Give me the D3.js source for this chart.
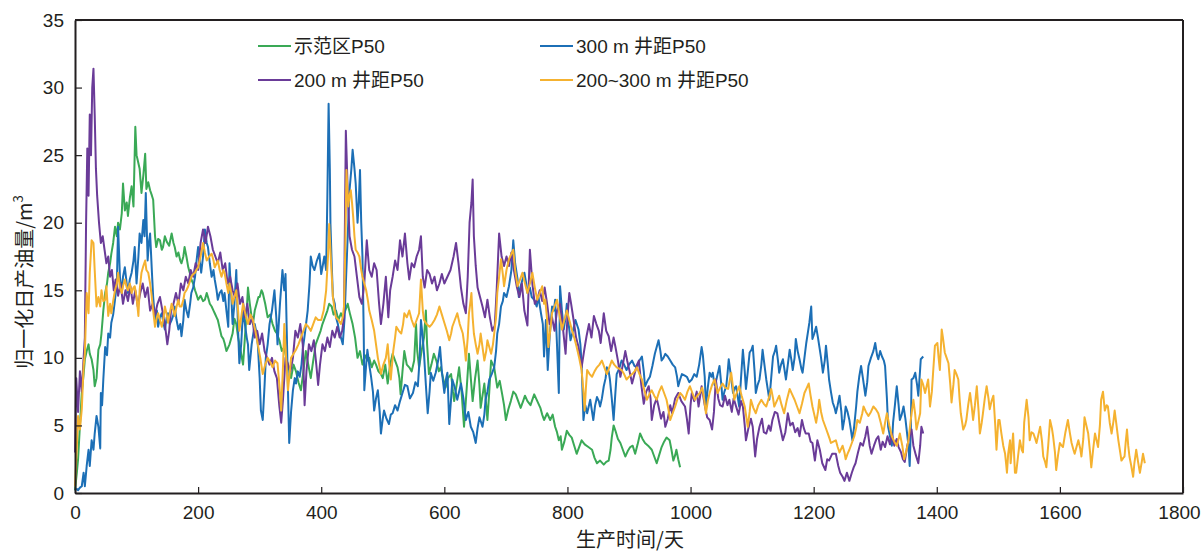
<!DOCTYPE html>
<html>
<head>
<meta charset="utf-8">
<style>
  body { margin: 0; background: #fff; }
  svg { display: block; font-family: "Liberation Sans", Arial, "Noto Sans CJK SC", sans-serif; }
</style>
</head>
<body>
<div id="chart"></div>
<script src="https://cdn.jsdelivr.net/npm/d3@7"></script>
<script>
// day, normalised daily oil (m3)
var green = [[0,0.2],[3,1.5],[5,2.5],[8,5],[11,7.4],[14,8.8],[16,9.9],[19,10.5],[22,11],[24,10.3],[27,9.9],[30,9.1],[32,7.9],[35,8.5],[38,10.6],[41,11],[43,11.8],[46,13.5],[49,14.8],[52,15.5],[54,16.3],[57,17],[59,17.7],[62,18.5],[65,19.7],[68,19],[70,20],[73,19.5],[76,20.7],[78,22.9],[81,20.9],[84,21.5],[86,20.5],[89,21.8],[92,22.7],[95,21.2],[98,27.1],[100,25],[102,24.6],[105,24],[108,22.2],[111,23.5],[114,25.1],[116,22.5],[119,23],[122,22.4],[125,22],[127,21.7],[130,19],[132,18.2],[135,18.8],[138,18.7],[141,18],[143,18.2],[146,19],[149,18.6],[153,18.3],[157,19.2],[160,18.5],[162,18.2],[165,17.5],[168,17.8],[171,17.2],[173,17],[176,17.5],[178,18.2],[181,17.5],[184,16.7],[187,16.2],[189,15.8],[192,15.5],[195,15],[198,14.6],[200,14.3],[204,14.6],[208,14.2],[211,14.3],[214,14.8],[216,14.5],[219,14],[222,13.8],[225,13.5],[227,13.3],[230,13],[232,12.8],[235,12.2],[238,11.6],[241,11.4],[243,11.1],[246,10.5],[249,10.8],[251,11],[256,11.8],[259,12.9],[262,12.5],[265,11.5],[268,10.8],[273,9.5],[276,11.5],[279,13.5],[281,15.2],[284,14],[287,13],[289,12.5],[292,13.5],[295,14],[298,14.5],[300,14.5],[303,15],[305,14.8],[309,14],[313,13],[317,13.2],[321,12.5],[325,12],[328,11.8],[332,11.3],[336,10.5],[340,10.8],[343,10],[347,9.3],[351,8.5],[355,9.5],[359,9],[363,8.2],[367,7.6],[371,9],[375,10.5],[379,9.5],[383,8.5],[387,9.8],[391,11],[395,11.5],[399,12],[402,12.5],[406,13],[410,13.5],[413,14],[417,13.8],[420,13.2],[424,13.5],[428,12.8],[432,13.3],[435,13],[439,13.5],[443,14],[447,13.2],[451,12.5],[455,11.5],[459,10],[463,10.5],[467,9.5],[471,10.2],[475,9.8],[478,10],[482,9.3],[486,9.8],[489,9.5],[493,9],[497,8.8],[500,8.5],[504,9.5],[508,8.1],[512,9.5],[516,10.3],[520,9.8],[524,9.3],[527,8.5],[529,7.3],[532,9],[535,10.5],[539,9.5],[543,9.3],[547,9],[551,9.8],[554,12.5],[556,10.5],[559,9.3],[563,10.5],[567,11.5],[570,13.5],[572,11],[575,8.8],[579,9.5],[583,10.3],[587,9.8],[591,9],[594,9.3],[598,8.5],[602,7.8],[606,8.5],[611,8.8],[614,7.5],[616,6.8],[620,8],[624,9.3],[628,7.5],[632,4.9],[636,7.5],[640,10.3],[643,8.5],[646,6.8],[650,8.5],[654,9.8],[657,8],[659,6.3],[662,7.2],[665,8.1],[668,6.5],[670,5.4],[673,7.5],[676,9.8],[681,9.3],[686,7.8],[690,8.3],[694,7.3],[697,6.5],[700,5.4],[704,6.2],[708,6.8],[712,7.5],[716,7.3],[720,6.8],[724,6.3],[728,6.8],[731,7.2],[735,6.8],[740,6.5],[746,7.3],[751,6.8],[756,6.3],[759,5.8],[762,5.4],[767,5.9],[772,5.4],[776,5.8],[780,4.9],[783,4.5],[786,3.9],[789,4.2],[791,3.2],[795,3.8],[799,4.6],[803,4.3],[807,4.1],[811,3.5],[815,2.9],[819,3.4],[823,3.9],[828,3.6],[834,3.4],[840,3.2],[844,2.6],[848,2.2],[853,2.4],[859,2.1],[863,2.3],[867,2.4],[870,3.2],[872,4.1],[875,5],[878,4.6],[882,4],[886,3.7],[890,3.2],[894,2.7],[898,3.1],[902,3.4],[906,3.5],[910,2.9],[914,3.6],[918,4.4],[922,4],[926,3.7],[931,3.5],[937,3.2],[941,2.7],[945,2.2],[949,2.8],[953,3.4],[957,3.8],[961,4.1],[966,3.9],[969,3.2],[972,2.4],[975,2.8],[977,3.2],[980,2.5],[983,1.9]];

var blue = [[0,0.2],[3,0.3],[5,0.2],[8,0.4],[11,0.5],[14,1.5],[16,0.5],[19,2],[22,3.2],[24,2],[27,3.9],[30,3.2],[32,4.4],[35,5.7],[38,4.9],[41,3.3],[42,7.4],[44,6.5],[46,8.4],[49,10.8],[52,10.2],[54,11.8],[57,11.5],[59,12.6],[62,13.2],[65,14.3],[68,15.5],[70,19.7],[73,16],[76,14.8],[78,16],[81,16.7],[84,15.5],[86,14.8],[89,15.8],[92,16.3],[95,17.2],[97,18.2],[100,15.5],[103,17.5],[105,19.2],[108,18.5],[111,20.2],[113,19],[115,22.2],[118,17.2],[120,18.5],[122,19.2],[125,16.3],[127,14.5],[130,12.8],[133,13.5],[135,12.3],[138,13],[141,13.3],[144,12.5],[146,12.1],[149,13],[151,13.3],[154,12.5],[157,12.8],[160,13.2],[162,13.8],[165,12.8],[168,12.1],[171,12.5],[173,11.6],[176,12.8],[178,14.3],[181,13.5],[184,13],[187,14],[189,14.8],[192,15.2],[195,16],[197,17],[200,18.2],[203,17],[205,16.3],[208,17.5],[211,19.5],[214,18.5],[216,18.2],[219,17],[222,16],[225,16.5],[227,15.8],[230,15],[232,14.3],[235,14.8],[238,15],[241,14.2],[243,14.8],[246,13.5],[249,12.3],[251,17],[254,14.5],[256,12.5],[259,14],[262,16.5],[265,12],[267,9.6],[270,11],[273,13.5],[276,12.5],[279,11.5],[281,11],[283,9.1],[287,11],[292,12.5],[295,11.8],[297,11],[300,8.5],[302,6.1],[305,5.4],[308,8],[310,10],[313,11],[316,12.5],[320,13.5],[324,15],[327,13],[329,11],[333,14],[337,16.5],[340,15],[342,16.2],[344,12],[346,7.6],[348,3.7],[351,6],[354,7.6],[357,8.5],[359,8.1],[362,9],[365,8.6],[368,9.5],[370,10.6],[374,12],[378,13.5],[381,15.5],[383,17.5],[386,16.8],[389,16.5],[393,17.2],[397,17.7],[400,16.2],[402,16.7],[405,17.5],[408,16.5],[410,22],[412,28.8],[414,24],[415,19.9],[417,17],[419,14.5],[422,14],[424,13],[427,12.5],[429,12],[432,11.5],[435,11],[438,13],[440,15.5],[443,19],[446,22.4],[449,24],[451,25.4],[454,24],[456,22.9],[459,20],[461,21.5],[463,23.9],[465,20],[467,17.5],[469,12],[470,7.6],[473,9.5],[475,10.6],[478,9.5],[481,8.6],[484,7.5],[486,6.1],[489,7],[492,7.6],[495,6],[497,4.4],[500,5.5],[502,6.1],[506,5.5],[510,5.1],[513,5.8],[516,5.9],[520,6.5],[524,6.1],[528,6.8],[532,7.4],[536,8],[540,7.9],[544,7],[549,7.4],[553,8.2],[557,7.9],[560,10],[562,12.8],[565,11.5],[567,10.3],[570,8],[573,5.9],[576,7.5],[578,8.9],[582,8.3],[586,8.9],[590,9.8],[593,10.8],[596,9],[600,7.4],[603,8.5],[605,8.9],[608,5.1],[611,7],[613,8.4],[617,7.8],[621,6.9],[624,7.5],[627,8.1],[631,7],[635,5.4],[639,6],[643,4.9],[647,4.5],[651,3.7],[654,4.8],[657,5.6],[660,5.2],[662,4.9],[665,5.8],[667,6.9],[670,7.5],[673,8.4],[677,8.8],[681,9.3],[684,10.5],[686,11.8],[689,12.5],[692,13.8],[695,14.2],[697,14.8],[701,14.5],[705,15.3],[709,16.5],[712,18.7],[715,17],[719,15.8],[721,14.5],[724,15.3],[727,15.8],[730,16.3],[733,15.5],[735,14.8],[739,15.2],[742,14.5],[746,14.3],[750,13.8],[753,14.5],[757,13.3],[760,12.5],[762,10.1],[765,12.8],[768,9.1],[771,11.5],[775,13.8],[778,13.5],[780,14.3],[783,11],[786,7.4],[788,15.3],[791,13.5],[794,12.1],[797,13],[799,14],[802,12.5],[805,11.3],[809,12],[813,12.8],[818,12.1],[821,11],[823,9.6],[826,5.4],[829,6.5],[832,5.9],[835,6.5],[837,6.9],[840,6],[842,5.4],[845,6.5],[848,7.1],[851,6.8],[853,6.4],[856,7],[859,7.9],[862,8.5],[864,9.3],[867,9],[869,8.4],[872,7],[875,5.4],[878,7.5],[880,8.8],[884,9.2],[888,9.8],[892,9.5],[896,9.1],[900,9.5],[905,9.8],[909,9.4],[913,9.3],[917,9.8],[921,10.1],[924,9],[926,7.9],[930,8.3],[934,8.6],[938,9.4],[942,10.3],[945,10.8],[948,11.3],[951,10.5],[953,9.8],[956,10],[959,10.3],[963,10.1],[967,9.8],[971,9.5],[975,9.3],[978,8.6],[980,7.9],[983,8.4],[986,8.8],[990,8.7],[994,8.6],[998,8.2],[1002,8.4],[1006,8.8],[1010,8.6],[1014,9.5],[1018,10.8],[1020,10.2],[1023,8.6],[1025,6.4],[1028,7.8],[1031,8.9],[1034,8.6],[1036,8.9],[1039,8],[1042,8.4],[1045,9],[1047,9.4],[1050,8],[1052,6.9],[1055,7.5],[1058,7.9],[1060,8.8],[1062,9.9],[1066,8.5],[1069,7.4],[1072,7.8],[1074,7.9],[1077,7],[1079,6.4],[1082,8.5],[1085,10.6],[1088,9],[1090,7.7],[1093,9],[1096,10.4],[1099,10.6],[1101,10.9],[1104,9],[1106,7.4],[1109,8],[1112,8.4],[1115,9.5],[1117,10.6],[1120,9.5],[1123,8.4],[1126,7.5],[1128,6.9],[1131,8.5],[1134,10.1],[1137,10.5],[1139,10.9],[1142,9.8],[1144,8.9],[1147,9.5],[1150,9.9],[1153,9],[1155,8.4],[1158,9.5],[1161,10.6],[1164,9.8],[1166,9.1],[1169,10],[1171,11.4],[1174,10.5],[1177,9.9],[1180,9.2],[1182,8.9],[1185,10],[1188,11.1],[1191,12],[1193,12.6],[1196,13.8],[1198,11.4],[1201,11.8],[1204,12.3],[1207,11.5],[1209,10.9],[1212,10],[1215,8.9],[1218,9.8],[1220,10.9],[1223,9.5],[1225,8.4],[1228,7.5],[1231,6.7],[1234,6.3],[1236,5.9],[1239,6.5],[1242,7.2],[1245,6],[1247,4.7],[1250,5.5],[1252,6.4],[1255,6],[1258,5.4],[1261,4.5],[1263,3.9],[1266,5],[1269,6.4],[1271,7.5],[1274,8.6],[1277,9.4],[1280,8.5],[1284,7.2],[1287,8.2],[1289,9.4],[1293,10],[1297,10.5],[1300,11.1],[1303,10.2],[1305,9.9],[1308,10.5],[1311,10.1],[1314,9.8],[1316,9.4],[1319,7],[1321,4.9],[1324,4.2],[1327,3.5],[1329,5.2],[1332,6.5],[1335,7.9],[1338,6.5],[1340,5.4],[1343,5.8],[1346,6.4],[1349,5.5],[1351,4.7],[1354,3.5],[1356,2],[1358,5],[1359,8.4],[1362,8.5],[1365,8.9],[1368,8],[1370,7.2],[1372,8.5],[1374,9.9],[1378,10.1]];

var purple = [[0,3],[2,8.5],[5,6],[8,9],[11,7.5],[14,10],[16,11.5],[18,20],[20,25.5],[22,22],[24,28],[26,25],[28,30],[30,31.4],[32,28],[34,24],[36,22],[39,20],[42,18.5],[45,19],[48,18],[51,17],[54,17.5],[57,16],[60,16.5],[63,15],[66,15.8],[70,14.6],[74,15.5],[78,14],[82,15],[86,14.2],[90,15.3],[94,14],[98,15],[102,13.8],[106,14.8],[110,15.5],[114,14.5],[118,15.2],[122,13.5],[126,14],[130,13.2],[134,14],[138,14.5],[142,13.5],[146,12.5],[150,11],[153,12],[156,13.5],[160,14],[164,14.8],[168,14],[172,15.5],[176,15],[180,16],[184,15.5],[188,16.5],[192,16],[196,17],[200,16.5],[204,18.5],[208,19.5],[212,18.5],[216,19.7],[220,19],[224,18],[228,17.5],[232,17],[236,17.8],[240,16.5],[244,17],[248,15.5],[252,16],[256,15],[260,14.5],[264,15.5],[268,14],[272,14.5],[276,13],[280,14],[284,12.5],[288,13],[292,11.5],[296,12],[300,11],[304,11.8],[308,10.5],[312,10],[316,9.5],[320,10],[324,9],[328,8.5],[332,6.4],[335,5.2],[338,7],[342,10],[346,9.5],[350,9],[354,10],[358,12],[362,11.5],[366,12.5],[370,11],[373,6.5],[376,9],[380,11],[384,10.5],[388,11.3],[392,9.5],[395,8],[398,9.5],[402,11],[406,10.5],[410,11.5],[414,10.8],[418,12],[422,11.5],[426,12.3],[430,11.5],[434,12],[437,13],[440,26.8],[443,22.4],[446,19],[450,18],[454,17.5],[458,16],[462,14.5],[466,14],[470,15.5],[474,18.7],[478,16.5],[482,16],[486,17],[490,16.5],[494,14],[497,12.5],[501,14],[505,16],[509,13],[512,15],[516,16],[520,17.2],[524,16.5],[528,18.7],[532,17.5],[536,19.2],[540,17],[543,15.8],[547,17],[551,16.7],[555,17.5],[559,18],[562,19],[565,16],[568,15.2],[572,16.5],[576,16.2],[580,15.5],[584,16],[588,15],[592,15.5],[596,16.2],[600,15.5],[605,16],[610,16.5],[615,17.5],[619,18.5],[623,17],[627,15.2],[631,14],[635,13.3],[638,16],[641,20],[644,21.5],[646,23.2],[648,19],[651,16.8],[654,15.2],[658,14.5],[662,13.8],[666,13],[670,14.3],[674,13],[678,12],[682,12.4],[685,15],[689,19.2],[693,17.5],[697,16.8],[701,17.5],[705,16.8],[709,17.8],[713,16.5],[718,15.2],[722,14.5],[726,15.5],[730,13.5],[735,12.4],[739,18],[743,15.5],[747,14],[751,14.3],[755,15],[759,14.2],[763,15.2],[767,14],[771,12.5],[775,13],[779,12],[783,13.5],[788,14],[792,12.5],[797,10.3],[800,13],[803,14.8],[806,14],[810,12.8],[814,11.5],[818,10.8],[823,9.3],[827,10.5],[831,11.6],[835,12.5],[839,11.5],[843,13.1],[847,12.5],[851,12],[854,11.1],[859,13.3],[863,12],[867,11.6],[871,10.5],[875,11.5],[878,10.8],[882,9.8],[886,8.6],[890,9.5],[894,10.5],[897,9.8],[901,9],[905,8.1],[909,8.8],[913,9.5],[916,9.8],[920,8],[924,6.6],[928,7.5],[932,7.9],[935,7],[937,5.4],[941,6.5],[945,7],[948,6.4],[952,5.5],[956,6],[959,4.9],[963,5.5],[967,6.5],[970,5.9],[975,7],[980,7.4],[985,6.8],[991,6.4],[994,5.5],[997,4.4],[1000,6.5],[1002,7.4],[1006,6.8],[1010,7.5],[1013,6.4],[1018,7.9],[1023,6.5],[1027,5.6],[1031,5.4],[1035,4.7],[1038,6],[1041,8.4],[1045,7],[1048,6.5],[1052,6.4],[1056,7.2],[1060,6.5],[1063,6.9],[1067,6],[1070,7],[1074,6.4],[1078,5.8],[1082,6.8],[1085,6.4],[1088,5],[1090,3.9],[1094,4.8],[1098,5.5],[1101,4.9],[1105,2.7],[1108,4],[1112,4.9],[1116,5.5],[1119,4.5],[1123,4.4],[1127,5],[1130,4.6],[1133,5.4],[1137,6],[1141,5.9],[1145,5],[1150,3.9],[1154,4.5],[1158,5.9],[1162,5],[1166,5.2],[1170,4.5],[1174,4.8],[1177,4.2],[1181,5.4],[1184,4.8],[1187,4.4],[1192,4.4],[1195,3.8],[1198,3.7],[1202,2.4],[1206,3.9],[1210,3.2],[1214,2.2],[1219,1.7],[1222,2.5],[1225,2.4],[1230,2.9],[1236,2.9],[1240,2],[1243,1.5],[1247,1.2],[1250,0.9],[1254,1.5],[1258,0.9],[1262,1.5],[1265,1.9],[1268,2.2],[1272,3],[1276,3.7],[1280,3.5],[1284,4.2],[1287,4.9],[1291,3.5],[1294,2.9],[1298,3.5],[1302,4],[1305,4.2],[1309,3.2],[1312,3.8],[1316,3.4],[1320,4.2],[1324,3.6],[1327,4.4],[1331,3.5],[1335,4],[1338,3.4],[1342,3],[1345,2.5],[1348,2.3],[1352,3.5],[1356,4.2],[1359,4.7],[1362,3.5],[1366,2.8],[1370,2.2],[1373,3.5],[1375,4.9],[1378,4.4]];

var yellow = [[0,0.5],[3,3.4],[5,5.7],[8,4.7],[11,6.2],[14,9.4],[16,10.3],[19,14.8],[22,13.3],[24,16.3],[27,18.7],[30,18.5],[32,16.5],[35,13.8],[38,14.5],[41,13.8],[43,15],[46,14.2],[49,14.3],[51,15.3],[54,13.1],[57,14],[59,13.3],[62,14.2],[65,15],[68,15.5],[70,16.3],[73,15.2],[76,14.8],[78,15.3],[81,15.8],[84,15.2],[86,15],[89,15.5],[92,14.8],[95,15.2],[97,15.3],[100,14.5],[103,13.1],[105,15],[108,16.3],[111,16.8],[114,17.2],[116,16.5],[119,16.3],[122,15.5],[124,14.8],[127,13.5],[130,12.3],[133,13],[135,13.3],[138,12.8],[141,12.3],[144,13],[146,13.8],[149,13.2],[151,12.6],[154,13.3],[157,14],[160,13.5],[162,13.1],[165,13.8],[168,14.3],[170,13.8],[173,13.8],[176,14.3],[178,14.8],[181,15],[184,15.3],[187,15.7],[189,16],[192,16.2],[195,16.3],[197,16.5],[200,16.7],[204,17.5],[208,18.5],[211,17.8],[214,17.2],[218,17.5],[222,17.7],[225,17.2],[227,16.7],[230,17],[232,17.2],[235,16.5],[238,16],[241,16.5],[243,16.3],[246,15.5],[249,14.8],[251,15.5],[254,14.8],[256,14],[259,14.5],[262,15],[265,13.5],[267,12],[270,13],[273,14],[277,13.2],[281,12.5],[285,13.2],[289,12.8],[293,12],[297,11],[301,10],[305,8.8],[309,9.5],[313,10],[317,9.7],[321,9.3],[325,9.8],[329,9.6],[332,8],[335,6.1],[338,9.5],[340,12.5],[343,10],[346,7.6],[349,9],[351,10],[355,10.3],[359,10.6],[363,11],[367,11.5],[371,12],[375,12.5],[379,12.3],[383,12],[387,12.5],[391,13],[395,12.8],[400,12.8],[404,13.5],[408,15],[411,17.5],[413,19.9],[416,17],[419,14.5],[422,13.5],[424,13],[428,12.8],[432,12.5],[435,13],[437,13.8],[439,18],[441,23.9],[444,21.2],[446,22],[448,22.4],[450,21.5],[452,20.4],[454,19],[456,18],[459,17.8],[462,17.5],[465,16.5],[467,16],[470,15.5],[473,15],[476,14.2],[478,13.5],[482,12.8],[486,12],[489,11],[492,10],[495,9.3],[497,8.8],[501,9.5],[505,10],[508,11],[510,9.8],[513,8.4],[517,10.5],[520,11.5],[522,12.3],[526,12],[530,11.8],[533,12.5],[535,13.3],[539,13],[543,13.5],[547,12.8],[551,12.3],[555,12.8],[559,13.3],[562,15.8],[565,13.5],[567,12.8],[571,12.5],[576,12.3],[580,12.5],[584,12.8],[588,13.2],[592,13.8],[596,13.2],[600,12.6],[604,12],[608,11.3],[611,11.8],[613,12.3],[617,12.8],[621,13.3],[625,12.5],[630,11.8],[633,10.8],[635,9.8],[638,11.5],[640,13.3],[642,14],[644,14.8],[646,13],[648,11.8],[651,11],[654,10.3],[657,11],[659,11.8],[662,10.8],[665,9.8],[668,10.5],[670,11.3],[673,10.8],[676,10.3],[679,11],[681,11.8],[684,13],[686,14.8],[689,16],[692,17.3],[695,16.2],[697,15.3],[701,16.5],[705,17.3],[709,17.7],[712,18],[715,16.5],[719,15.3],[723,15.8],[727,16.3],[731,15.5],[735,14.8],[739,15.5],[743,16.3],[747,15.2],[751,14.3],[755,14.8],[759,15.3],[762,14],[764,14.3],[767,12.8],[769,10.8],[772,12],[775,13.3],[779,13.8],[783,14.3],[787,13.2],[791,12.1],[795,12.8],[799,13.5],[803,12.8],[807,12.1],[811,11.5],[815,10.8],[819,10],[823,9.1],[826,7.5],[828,6.1],[830,7.8],[832,9.1],[836,8.8],[840,8.6],[844,9],[848,9.3],[852,9.5],[856,9.8],[860,9.3],[864,8.8],[868,9.3],[872,9.8],[876,9.5],[880,9.3],[884,9.2],[888,9.1],[892,8.8],[896,8.4],[900,8.6],[905,8.8],[909,9],[913,9.3],[917,8.8],[921,8.4],[925,7.6],[929,6.9],[933,7.3],[937,7.6],[941,7.2],[945,6.9],[949,7.5],[953,7.9],[957,7.4],[961,6.9],[964,6.2],[967,5.4],[971,5.9],[975,6.4],[979,7],[983,7.4],[987,7.2],[991,6.9],[995,7.5],[999,7.9],[1003,7.4],[1007,6.9],[1011,7.2],[1015,7.4],[1019,7.8],[1022,7],[1025,5.9],[1028,6.8],[1031,7.4],[1035,8],[1039,8.4],[1042,7.8],[1044,7.4],[1048,7.8],[1052,8.1],[1056,7.8],[1061,7.7],[1066,8.9],[1069,7.8],[1071,6.9],[1075,7.4],[1079,7.9],[1083,7.2],[1088,6.4],[1091,5.5],[1093,4.9],[1096,6],[1098,6.9],[1102,6.3],[1106,5.9],[1110,6.5],[1115,6.9],[1119,6.6],[1123,6.4],[1127,7],[1131,7.7],[1134,7],[1136,6.4],[1140,6.8],[1144,7.2],[1148,6.5],[1152,5.9],[1156,6.8],[1161,7.7],[1165,7.3],[1169,6.9],[1173,6.4],[1177,5.9],[1181,6.6],[1185,7.4],[1189,7.8],[1192,8.1],[1195,7.2],[1198,6.4],[1201,5.8],[1204,5.2],[1207,6],[1209,6.9],[1212,6],[1215,5.4],[1219,4.9],[1223,4.4],[1226,4],[1228,3.7],[1232,3.8],[1236,3.9],[1239,3.4],[1242,3],[1245,3.3],[1247,3.5],[1250,3],[1252,2.5],[1255,2.9],[1258,3.2],[1262,3.7],[1266,4.2],[1269,4.8],[1271,5.4],[1275,5.2],[1279,5.9],[1281,6.4],[1285,6],[1289,5.7],[1293,6],[1297,6.4],[1301,6.2],[1305,5.9],[1309,5.2],[1313,4.4],[1316,5.2],[1319,5.9],[1323,5],[1327,4.2],[1331,3.8],[1335,3.5],[1338,4],[1340,4.4],[1344,3.5],[1347,2.5],[1351,3.2],[1354,3.9],[1358,5.5],[1362,6.9],[1365,5.8],[1367,4.7],[1370,5.3],[1373,5.9],[1375,8.4],[1378,8],[1381,7.4],[1384,8],[1386,8.4],[1389,6.4],[1392,7.5],[1394,8.9],[1397,10.9],[1401,11.1],[1403,10],[1405,9.1],[1408,12.1],[1410,11.5],[1413,10.4],[1416,10],[1419,9.6],[1422,8],[1424,6.7],[1427,8],[1429,9.1],[1432,8.8],[1435,8.4],[1437,7],[1439,5.9],[1443,4.7],[1446,5],[1448,5.4],[1451,6.5],[1454,7.4],[1457,6.3],[1459,5.4],[1462,6.5],[1465,7.9],[1468,6],[1470,4.4],[1473,5.2],[1475,5.9],[1478,7],[1481,7.9],[1484,7],[1486,6.2],[1489,6.8],[1492,7.2],[1495,5],[1497,3.2],[1500,5.4],[1502,5.4],[1505,4.4],[1508,3.5],[1511,2.9],[1513,2],[1514,1.5],[1516,2.9],[1519,3.9],[1520,2.2],[1524,4.4],[1527,1.5],[1529,1.5],[1532,2.7],[1535,3.9],[1538,3.2],[1540,3],[1542,5.2],[1546,6.9],[1549,5.6],[1551,3.9],[1554,4.5],[1557,4.4],[1560,4],[1562,3.7],[1565,4.3],[1568,4.9],[1571,3.8],[1573,2.7],[1576,2.3],[1578,1.9],[1581,3.5],[1584,5.4],[1587,4.8],[1589,4.2],[1592,3],[1594,1.7],[1597,2.8],[1600,3.7],[1603,3.5],[1605,3.4],[1609,4.5],[1613,5.4],[1616,4.5],[1619,3.7],[1622,3.2],[1624,2.9],[1627,3.4],[1630,3.9],[1633,3.3],[1635,2.7],[1638,4],[1640,5.6],[1643,5],[1646,4.4],[1649,3],[1651,1.9],[1654,3.2],[1657,4.4],[1660,3.8],[1662,3.4],[1665,5],[1667,6.9],[1670,7.5],[1673,6.1],[1676,6.5],[1678,6.4],[1681,5.2],[1684,4.4],[1687,5.3],[1689,6.1],[1692,5],[1695,3.9],[1698,3],[1700,2.4],[1703,2.6],[1705,2.7],[1707,3.8],[1709,4.7],[1711,3.5],[1713,2.7],[1716,2],[1719,1.2],[1721,2.2],[1724,3.2],[1727,2.3],[1730,1.5],[1733,2.3],[1735,2.9],[1738,2.2]];

var seriesNames = ["示范区P50", "300 m 井距P50", "200 m 井距P50", "200~300 m 井距P50"];
var seriesColors = ["#3aa956", "#1c6fb6", "#6a3b98", "#f5b230"];
var xTicks = [0, 200, 400, 600, 800, 1000, 1200, 1400, 1600, 1800];
var yTicks = [0, 5, 10, 15, 20, 25, 30, 35];

var width = 1204, height = 553;
var margin = {top: 20, right: 21, bottom: 60, left: 75};

var svg = d3.select("#chart").append("svg")
    .attr("width", width)
    .attr("height", height);

var x = d3.scaleLinear().domain([0, 1800]).range([margin.left, width - margin.right]);
var y = d3.scaleLinear().domain([0, 35]).range([height - margin.bottom, margin.top]);

var line = d3.line()
    .x(function (d) { return x(d[0]); })
    .y(function (d) { return y(d[1]); });

// lines first, frame on top
var allSeries = [green, blue, purple, yellow];
allSeries.forEach(function (s, i) {
    svg.append("path")
        .datum(s)
        .attr("fill", "none")
        .attr("stroke", seriesColors[i])
        .attr("stroke-width", 2)
        .attr("stroke-linejoin", "round")
        .attr("d", line);
});

// axes
var xAxis = svg.append("g")
    .attr("transform", "translate(0," + y(0) + ")")
    .call(d3.axisBottom(x).tickValues(xTicks).tickFormat(d3.format("d"))
        .tickSizeInner(-6).tickSizeOuter(0).tickPadding(13));
var yAxis = svg.append("g")
    .attr("transform", "translate(" + x(0) + ",0)")
    .call(d3.axisLeft(y).tickValues(yTicks).tickFormat(d3.format("d"))
        .tickSizeInner(-7).tickSizeOuter(0).tickPadding(11));

[xAxis, yAxis].forEach(function (g) {
    g.select(".domain").attr("stroke", "#231f20").attr("stroke-width", 2);
    g.selectAll(".tick line").attr("stroke", "#231f20").attr("stroke-width", 1.2);
    g.selectAll(".tick text")
        .attr("fill", "#231f20")
        .style("font-size", "19px")
        .style("font-family", "'Liberation Sans', Arial, sans-serif");
});
// last x label sits against the page edge, pull it in a little
xAxis.selectAll(".tick text").filter(function (d) { return d === 1800; }).attr("dx", -4);

// top and right frame
svg.append("line")
    .attr("x1", x(0)).attr("x2", x(1800))
    .attr("y1", y(35)).attr("y2", y(35))
    .attr("stroke", "#231f20").attr("stroke-width", 2);
svg.append("line")
    .attr("x1", x(1800)).attr("x2", x(1800))
    .attr("y1", y(35)).attr("y2", y(0))
    .attr("stroke", "#231f20").attr("stroke-width", 2);

// axis titles
svg.append("text")
    .attr("x", (x(0) + x(1800)) / 2 + 1)
    .attr("y", 547)
    .attr("text-anchor", "middle")
    .attr("fill", "#231f20")
    .style("font-size", "20px")
    .style("font-family", "'Noto Sans CJK SC', sans-serif")
    .text("生产时间/天");

var yTitle = svg.append("text")
    .attr("transform", "translate(32," + 282 + ") rotate(-90)")
    .attr("text-anchor", "middle")
    .attr("fill", "#231f20")
    .style("font-size", "20px")
    .style("font-family", "'Noto Sans CJK SC', sans-serif");
yTitle.append("tspan").text("归一化日产油量/m");
yTitle.append("tspan").attr("baseline-shift", "super").style("font-size", "13px").text("3");

// legend, two columns two rows
var legendPos = [[258, 46], [540, 46], [258, 80], [540, 80]];
seriesNames.forEach(function (name, i) {
    var p = legendPos[i];
    svg.append("line")
        .attr("x1", p[0]).attr("x2", p[0] + 33)
        .attr("y1", p[1]).attr("y2", p[1])
        .attr("stroke", seriesColors[i])
        .attr("stroke-width", 2);
    svg.append("text")
        .attr("x", p[0] + 36)
        .attr("y", p[1] + 7)
        .attr("fill", "#231f20")
        .style("font-size", "19px")
        .style("font-family", "'Liberation Sans', Arial, 'Noto Sans CJK SC', sans-serif")
        .text(name);
});
</script>
</body>
</html>
